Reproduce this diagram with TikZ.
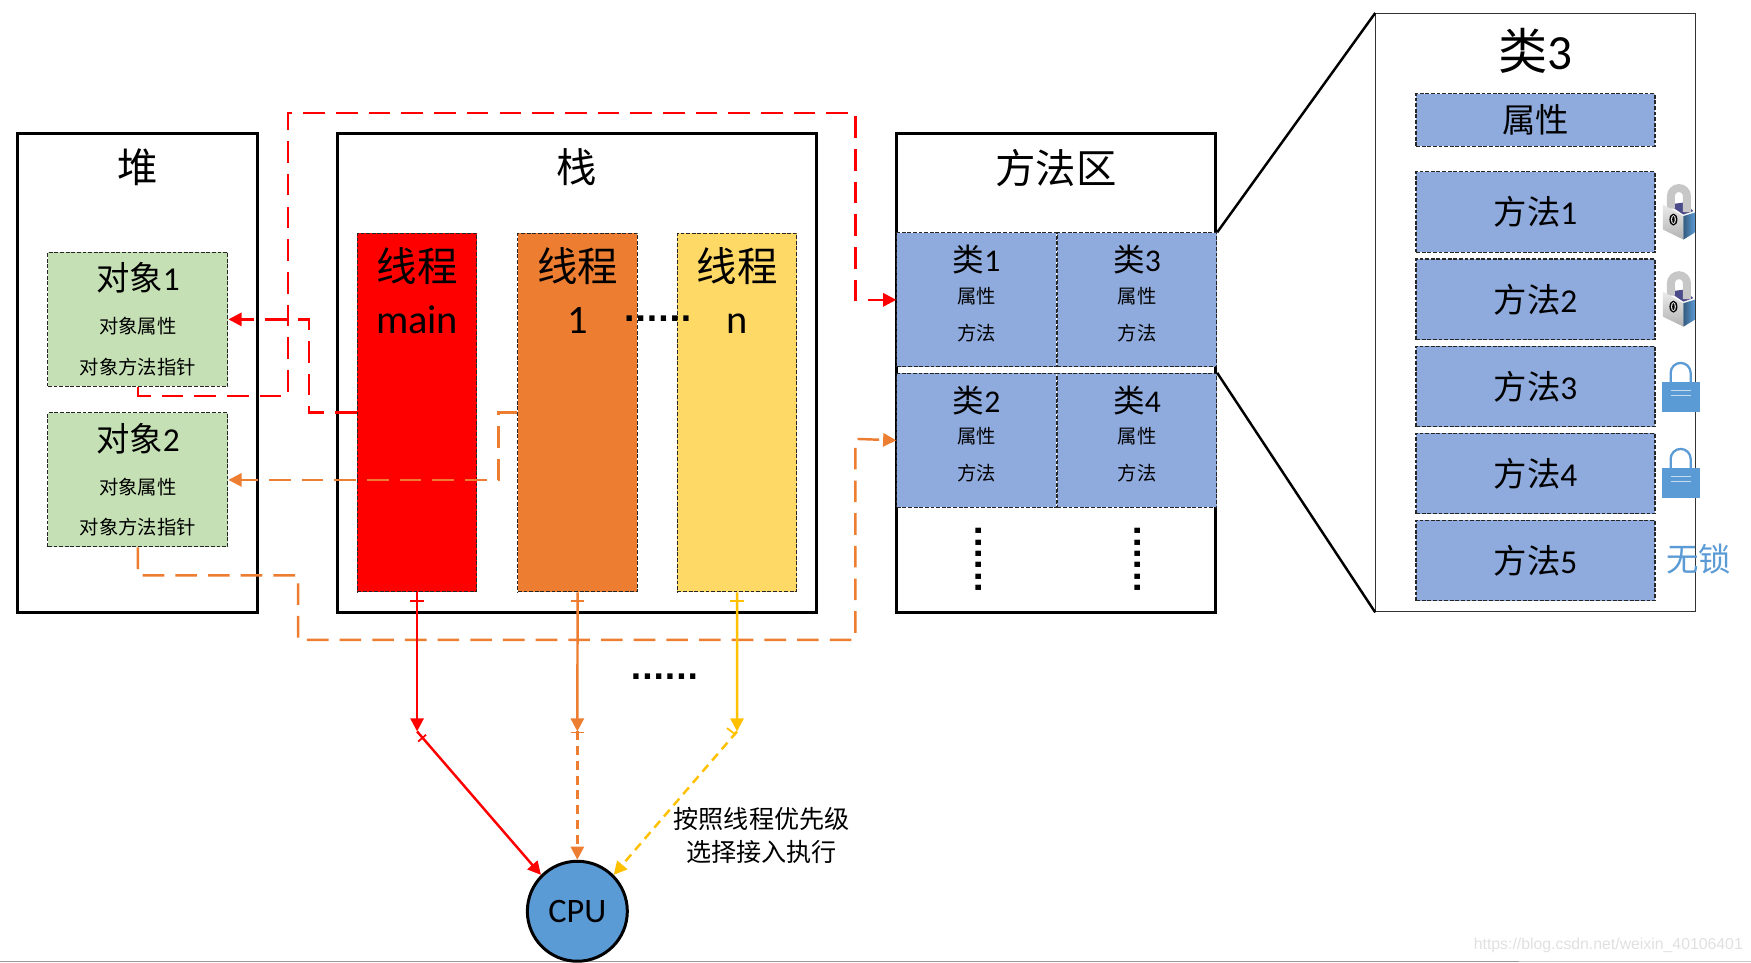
\documentclass[tikz,border=0pt]{standalone}
\usepackage{fontspec}
\setmainfont{Carlito}
\newfontfamily\cjk{Noto Sans CJK SC}
\newfontfamily\dotfont{DejaVu Sans Bold}
\newfontfamily\markfont{Liberation Sans}
\usepackage{xcolor}
\usepackage{tikz}
\usetikzlibrary{arrows.meta, positioning, calc}
\definecolor{threadred}{HTML}{FF0000}
\definecolor{threadorange}{HTML}{ED7D31}
\definecolor{threadyellow}{HTML}{FFD966}
\definecolor{lineyellow}{HTML}{FFC000}
\definecolor{objgreen}{HTML}{C5E0B4}
\definecolor{clsblue}{HTML}{8FAADC}
\definecolor{cpublue}{HTML}{5B9BD5}
\newcommand{\objtxt}[1]{\fontsize{19}{22}\selectfont{\cjk 对象}#1\\[12.5pt]\fontsize{11}{14}\selectfont\cjk 对象属性\\[11pt]\fontsize{11}{14}\selectfont\cjk 对象方法指针}
\newcommand{\clstxt}[1]{\fontsize{18}{21}\selectfont{\cjk 类}#1\\[6pt]\fontsize{11}{14}\selectfont\cjk 属性\\[9pt]\fontsize{11}{14}\selectfont\cjk 方法\\[-4pt]~}
\tikzset{
  areabox/.style={rectangle,draw=black,line width=1.7pt,fill=white,minimum width=#1,minimum height=9.58cm,inner sep=0pt},
  title/.style={font=\fontsize{23}{26}\selectfont,inner sep=0pt},
  fine/.style={draw=black!85,line width=0.6pt,dash pattern=on 2.2pt off 1pt},
  objbox/.style={rectangle,fine,fill=objgreen,minimum width=3.6cm,minimum height=2.68cm,inner sep=0pt,align=center},
  threadbox/.style={rectangle,fine,minimum width=2.39cm,minimum height=7.17cm,inner sep=0pt},
  threadtxt/.style={font=\fontsize{23}{30}\selectfont,align=center,inner sep=0pt},
  clsbox/.style={rectangle,fine,fill=clsblue,minimum width=3.19cm,minimum height=2.68cm,inner sep=0pt,align=center},
  methbox/.style={rectangle,fine,fill=clsblue,minimum width=4.78cm,minimum height=1.61cm,inner sep=0pt,font=\fontsize{19}{22}\selectfont},
  dotstxt/.style={font=\dotfont\fontsize{17}{17}\selectfont,inner sep=0pt},
  arr/.style={-{Triangle[length=7.5pt,width=7.5pt]},line width=1.4pt},
  darr/.style={arr,dash pattern=on 12.3pt off 6.3pt},
  sarr/.style={arr,dash pattern=on 5pt off 3.4pt},
  tick/.style={line width=1pt},
  pics/bluelock/.style={code={
    \begin{scope}[x=1cm,y=1cm]
    \draw[cpublue,line width=1.3pt] (-0.2,0) -- (-0.2,0.18) arc (180:0:0.2) -- (0.2,0);
    \fill[cpublue] (-0.38,-0.6) rectangle (0.38,0);
    \draw[white!65!cpublue,line width=0.6pt] (-0.2,-0.18) -- (0.2,-0.18) (-0.2,-0.28) -- (0.2,-0.28);
    \end{scope}
  }},
  pics/silverlock/.style={code={
    \begin{scope}[x=1cm,y=1cm]
    \fill[blue!35!black!70!white] (-0.2,0.13) -- (0.1,-0.07) -- (0.3,0) -- (0.1,0.17) -- cycle;
    \draw[black!22,line width=4.5pt] (-0.15,0.05) -- (-0.15,0.3) arc (180:0:0.16) -- (0.17,-0.02);
    \shade[top color=black!8,bottom color=black!30] (-0.31,0.13) -- (0.1,-0.1) -- (0.1,-0.57) -- (-0.31,-0.37) -- cycle;
    \shade[left color=cpublue!60!black,right color=cpublue] (0.1,-0.1) -- (0.33,-0.03) -- (0.33,-0.43) -- (0.1,-0.57) -- cycle;
    \fill[black] (-0.1,-0.17) ellipse (0.08 and 0.12);
    \fill[black!10] (-0.1,-0.17) ellipse (0.05 and 0.09);
    \fill[black] (-0.1,-0.17) ellipse (0.025 and 0.07);
    \end{scope}
  }}
}
\begin{document}
\begin{tikzpicture}[x=0.022334cm,y=-0.022334cm]
  \useasboundingbox (0,0) rectangle (1568,862.3);
  \coordinate (edgel) at (0,861);
  \coordinate (edgem) at (1360,861);
  \coordinate (edger) at (1568,861);
  \draw[black!40,line width=1.1pt] (edgel) -- (edgem);
  \draw[black!20,line width=1.1pt] (edgem) -- (edger);

  % three areas
  \node[areabox=4.8cm] (heap) at (123.5,334) {};
  \node[areabox=9.58cm, right=1.53cm of heap] (stack) {};
  \node[areabox=6.39cm, right=1.54cm of stack] (marea) {};
  \node[title, below=0.33cm of heap.north] (heaptitle) {\cjk 堆};
  \node[title, below=0.33cm of stack.north] (stacktitle) {\cjk 栈};
  \node[title, below=0.33cm of marea.north] (mareatitle) {\cjk 方法区};

  % objects
  \node[objbox] (obj1) at (123.5,286) {\objtxt{1}};
  \node[objbox, below=0.51cm of obj1] (obj2) {\objtxt{2}};

  % threads
  \node[threadbox, fill=threadred] (tmain) at (373.5,369.5) {};
  \node[threadbox, fill=threadorange, right=0.8cm of tmain] (tone) {};
  \node[threadbox, fill=threadyellow, right=0.78cm of tone] (tn) {};
  \node[threadtxt, below=0.28cm of tmain.north] (tmaintxt) {\cjk 线程\\main};
  \node[threadtxt, below=0.28cm of tone.north] (tonetxt) {\cjk 线程\\1};
  \node[threadtxt, below=0.28cm of tn.north] (tntxt) {\cjk 线程\\n};
  \node[dotstxt] (tdots) at (589,285) {......};
  \node[dotstxt] (cpudots) at (595,606) {......};

  % classes
  \node[clsbox] (cls1) at (874.5,268.5) {\clstxt{1}};
  \node[clsbox, right=0cm of cls1] (cls3) {\clstxt{3}};
  \node[clsbox, below=0.11cm of cls1] (cls2) {\clstxt{2}};
  \node[clsbox, right=0cm of cls2] (cls4) {\clstxt{4}};
  \node[dotstxt, rotate=90] (dotsl) at (876,501) {......};
  \node[dotstxt, rotate=90] (dotsr) at (1019,501) {......};

  % class 3 panel
  \node[rectangle,draw=black!80,fill=white,line width=0.6pt,minimum width=6.39cm,minimum height=11.97cm,inner sep=0pt] (panel) at (1375,280) {};
  \node[title, font=\fontsize{28}{32}\selectfont, below=0.3cm of panel.north] (paneltitle) {{\cjk 类}3};
  \node[methbox, minimum height=1.05cm] (attr) at (1375,107.5) {\cjk 属性};
  \node[methbox] (m1) at (1375,190) {{\cjk 方法}1};
  \foreach \i [count=\j from 1] in {2,...,5}
    \node[methbox, below=0.111cm of m\j] (m\i) {{\cjk 方法}\i};
  \draw[line width=1.4pt] (marea.east |- cls3.north) -- (panel.north west);
  \draw[line width=1.4pt] (marea.east |- cls4.north) -- (panel.south west);
  \pic at (1503,189) {silverlock};
  \pic at (1503,267) {silverlock};
  \pic at (1505,342) {bluelock};
  \pic at (1505,419) {bluelock};
  \node[font=\fontsize{18.5}{21}\selectfont,text=cpublue,inner sep=0pt] (nolock) at (1521,501) {\cjk 无锁};

  % cpu
  \node[circle,draw=black,line width=1.7pt,fill=cpublue,minimum size=2cm,inner sep=0pt,font=\fontsize{19.5}{22}\selectfont] (cpu) at (517,816) {CPU};
  \node[font=\fontsize{14.3}{18.8}\selectfont,align=center,inner sep=0pt] (prio) at (682,748) {\cjk 按照线程优先级\\\cjk 选择接入执行};
  \node[font=\markfont\fontsize{9}{10}\selectfont,text=black!12,inner sep=0pt,anchor=east] (mark) at (1561,847) {https://blog.csdn.net/weixin\_40106401};

  % references between heap, stack and method area
  \draw[darr,threadred] (tmain.west) -- ++(-43,0) |- (obj1.east);
  \draw[darr,threadred] (obj1.south) -- ++(0,8) -| (258,101) -| (766,268.5) -- (cls1.west);
  \draw[darr,threadorange] (tone.west) -- ++(-17,0) |- (obj2.east);
  \draw[darr,threadorange] (obj2.south) -- ++(0,25) -| (267,573) -| (766,393) -- (cls2.west);

  % scheduling
  \coordinate (jmain) at (373.5,655);
  \coordinate (jone) at (517,655);
  \coordinate (jn) at (660,655);
  \draw[arr,threadred] (tmain.south) -- (jmain);
  \draw[arr,threadorange] (tone.south) -- (jone);
  \draw[arr,lineyellow] (tn.south) -- (jn);
  \draw[arr,threadred] (jmain) -- (cpu.north west);
  \draw[sarr,threadorange] (jone) -- (cpu.north);
  \draw[sarr,lineyellow] (jn) -- (cpu.north east);
  \draw[tick,threadred] ([shift={(-6,8)}]tmain.south) -- ++(12,0);
  \draw[tick,threadorange] ([shift={(-6,8)}]tone.south) -- ++(12,0);
  \draw[tick,lineyellow] ([shift={(-6,8)}]tn.south) -- ++(12,0);
  \draw[tick,threadred] ($(jmain)+(1,9)$) -- ++(7,-6);
  \draw[tick,threadorange] ($(jone)+(-6,1)$) -- ++(12,0);
  \draw[tick,lineyellow] ($(jn)+(-9,-3)$) -- ++(8,6);
\end{tikzpicture}
\end{document}
